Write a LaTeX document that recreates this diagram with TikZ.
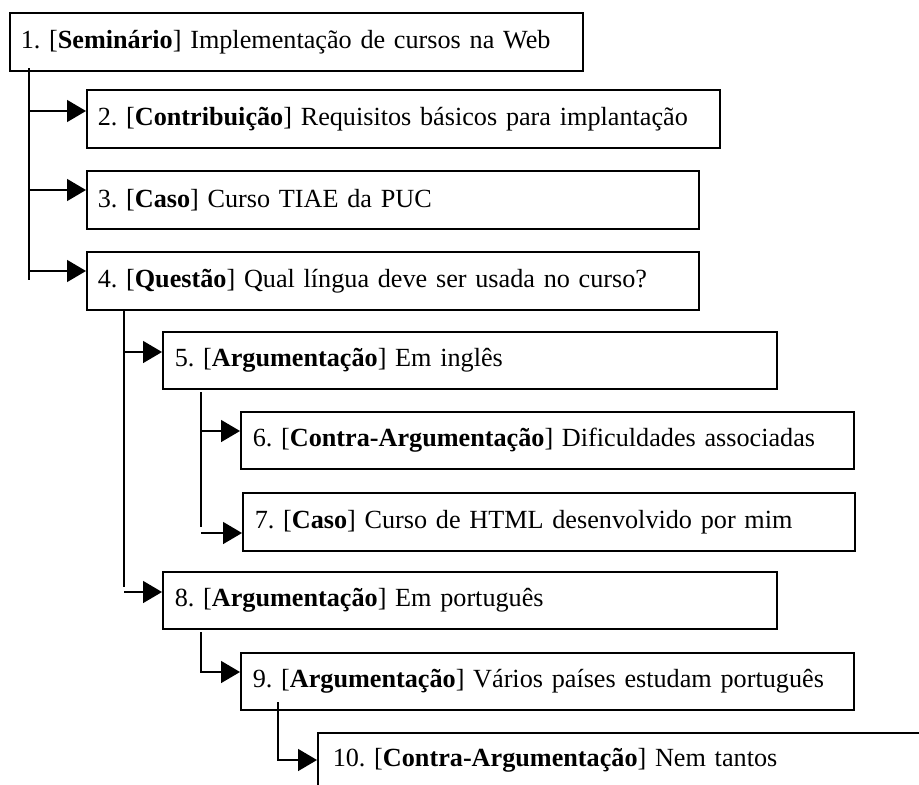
\documentclass[tikz,border=0pt]{standalone}
\usepackage{fontspec}
\setmainfont{Liberation Serif}
\usetikzlibrary{arrows.meta}
\begin{document}
\begin{tikzpicture}[x=1pt,y=-1pt,
  box/.style={draw,line width=1.5pt,anchor=north west,inner xsep=11pt,inner ysep=0pt,
    align=left,font=\fontsize{26.2}{30}\selectfont\frenchspacing},
  link/.style={line width=1.5pt},
  arr/.style={line width=1.5pt,-{Triangle[length=19pt,width=22pt]}}]
\useasboundingbox (0,0) rectangle (919,785);
% boxes: left, top, width, height
\node[box,text width=573-22,minimum height=58] (n1) at (9,12) {\mbox{1. [\textbf{Seminário}] Implementação de cursos na Web}};
\node[box,text width=633-22,minimum height=58] (n2) at (86,89) {\mbox{2. [\textbf{Contribuição}] Requisitos básicos para implantação}};
\node[box,text width=612-22,minimum height=58] (n3) at (86,170) {\mbox{3. [\textbf{Caso}] Curso TIAE da PUC}};
\node[box,text width=612-22,minimum height=58] (n4) at (86,251) {\mbox{4. [\textbf{Questão}] Qual língua deve ser usada no curso?}};
\node[box,inner xsep=12pt,text width=614-24,minimum height=57] (n5) at (162,331) {\mbox{5. [\textbf{Argumentação}] Em inglês}};
\node[box,inner xsep=12pt,text width=613-24,minimum height=57] (n6) at (240,411) {\mbox{6. [\textbf{Contra-Argumentação}] Dificuldades associadas}};
\node[box,inner xsep=12pt,text width=612-24,minimum height=58] (n7) at (242,492) {\mbox{7. [\textbf{Caso}] Curso de HTML desenvolvido por mim}};
\node[box,inner xsep=12pt,text width=614-24,minimum height=57] (n8) at (162,571) {\mbox{8. [\textbf{Argumentação}] Em português}};
\node[box,inner xsep=12pt,text width=613-24,minimum height=57] (n9) at (240,652) {\mbox{9. [\textbf{Argumentação}] Vários países estudam português}};
\node[box,inner xsep=15pt,text width=640-30,minimum height=56] (n10) at (317,732) {\mbox{10. [\textbf{Contra-Argumentação}] Nem tantos}};
% trunk coordinates
\coordinate (t1a) at (29,68);  \coordinate (t1b) at (29,280);
\coordinate (t4a) at (124,309); \coordinate (t4b) at (124,587);
\coordinate (t5a) at (201,392); \coordinate (t5b) at (201,527);
\coordinate (t8a) at (201,632);
\coordinate (t9a) at (278,702);
% trunks
\draw[link] (t1a) -- (t1b);
\draw[link] (t4a) -- (t4b);
\draw[link] (t5a) -- (t5b);
% arrows
\draw[arr] (t1a |- 0,111) -- (n2.west |- 0,111);
\draw[arr] (t1a |- 0,190) -- (n3.west |- 0,190);
\draw[arr] (t1a |- 0,271) -- (n4.west |- 0,271);
\draw[arr] (t4a |- 0,352) -- (n5.west |- 0,352);
\draw[arr] (t5a |- 0,431) -- (n6.west |- 0,431);
\draw[arr] (t5a |- 0,533) -- (n7.west |- 0,533);
\draw[arr] (t4a |- 0,592) -- (n8.west |- 0,592);
\draw[arr] (t8a) |- (n9.west |- 0,672);
\draw[arr] (t9a) |- (n10.west |- 0,760);
\end{tikzpicture}
\end{document}
